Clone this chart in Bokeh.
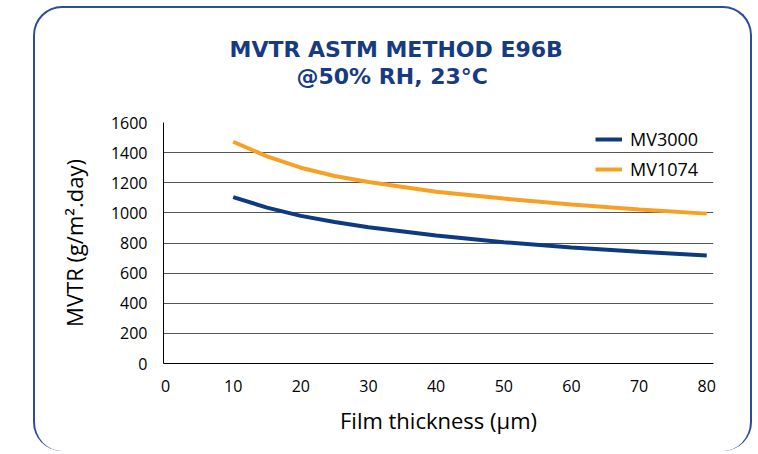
from bokeh.plotting import figure
from bokeh.models import Range1d, FixedTicker, Title
from bokeh.embed import file_html
from bokeh.resources import INLINE

# ---- data ----
thickness = [10, 15, 20, 25, 30, 40, 50, 60, 70, 80]
mv3000 = [1105, 1035, 980, 940, 905, 850, 805, 770, 742, 717]
mv1074 = [1472, 1375, 1300, 1245, 1205, 1140, 1095, 1055, 1022, 995]
x_ticks = [0, 10, 20, 30, 40, 50, 60, 70, 80]
y_ticks = [0, 200, 400, 600, 800, 1000, 1200, 1400, 1600]
title_line1 = "MVTR ASTM METHOD E96B"
title_line2 = "@50% RH, 23°C"
x_label = "Film thickness (μm)"
y_label = "MVTR (g/m².day)"

FONT = "Open Sans"
TFONT = "DejaVu Sans"
NAVY = "#0d3a80"
ORANGE = "#f7a024"
TITLE_C = "#173b82"
BORDER_C = "#2b4c9b"

p = figure(width=719, height=445, output_backend="svg", toolbar_location=None,
           title=None,
           x_range=Range1d(-0.3, 81), y_range=Range1d(0, 1600),
           min_border_left=128, min_border_right=41,
           min_border_top=114, min_border_bottom=90)
p.outline_line_color = None
p.background_fill_color = None
p.border_fill_color = None
p.styles = {
    "margin-left": "33px",
    "margin-top": "6px",
    "border": "2.5px solid " + BORDER_C,
    "border-bottom-width": "0px",
    "border-radius": "29px",
    "background": "white",
}

p.line(thickness, mv1074, color=ORANGE, line_width=4, legend_label="MV1074")
p.line(thickness, mv3000, color=NAVY, line_width=4, legend_label="MV3000")

# title: spacer next to the frame, then line 2, then line 1
spacer = Title(text=" ", text_font_size="2px", standoff=30)
p.add_layout(spacer, "above")
t2 = Title(text=title_line2, align="left", offset=133, standoff=0,
           text_font=TFONT, text_font_style="bold", text_font_size="22px",
           text_color=TITLE_C)
p.add_layout(t2, "above")
t1 = Title(text=title_line1, align="left", offset=66, standoff=0,
           text_font=TFONT, text_font_style="bold", text_font_size="22px",
           text_color=TITLE_C)
p.add_layout(t1, "above")

# axes
p.xaxis.ticker = FixedTicker(ticks=x_ticks)
p.yaxis.ticker = FixedTicker(ticks=y_ticks)
for ax in (p.xaxis[0], p.yaxis[0]):
    ax.major_tick_line_color = None
    ax.minor_tick_line_color = None
    ax.axis_line_color = "black"
    ax.axis_line_width = 1
    ax.major_label_text_font = FONT
    ax.major_label_text_font_size = "16px"
    ax.major_label_text_color = "black"
    ax.axis_label_text_font = FONT
    ax.axis_label_text_font_size = "22px"
    ax.axis_label_text_font_style = "normal"
    ax.axis_label_text_color = "black"
p.xaxis.axis_label = x_label
p.yaxis.axis_label = y_label
p.xaxis.major_label_standoff = 10
p.yaxis.major_label_standoff = 10
p.xaxis.axis_label_standoff = 10
p.yaxis.axis_label_standoff = 19

p.xgrid.grid_line_color = None
p.ygrid.grid_line_color = "#555555"
p.ygrid.grid_line_width = 1

# legend
lg = p.legend[0]
lg.items = list(reversed(lg.items))
lg.location = (432, 182)
lg.border_line_color = None
lg.background_fill_alpha = 0
lg.label_text_font = FONT
lg.label_text_font_size = "18px"
lg.label_text_color = "black"
lg.glyph_width = 27
lg.glyph_height = 20
lg.label_height = 20
lg.spacing = 6
lg.padding = 0
lg.margin = 0
lg.label_standoff = 8

open("out.html", "w").write(file_html(p, INLINE))
